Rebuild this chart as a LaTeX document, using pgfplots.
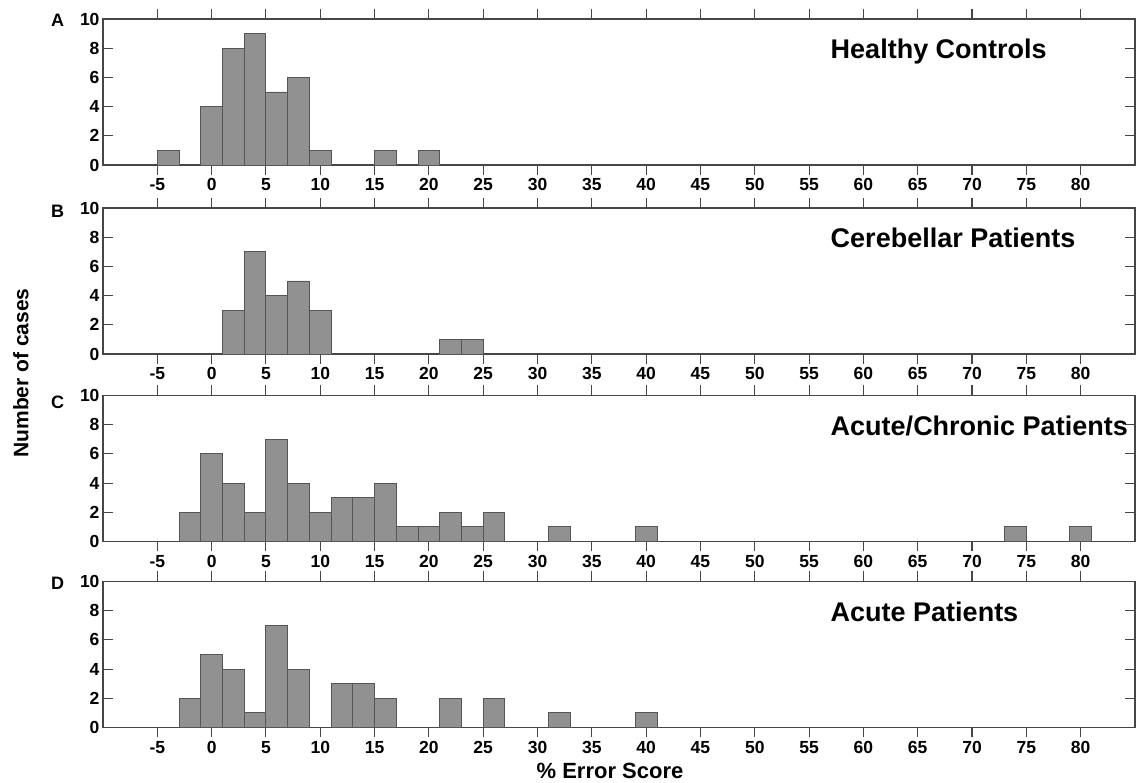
\documentclass[border=0pt]{standalone}
\usepackage{pgfplots}
\pgfplotsset{compat=1.18}
\usepackage{fontspec}
\setmainfont{Liberation Sans}
\definecolor{barfill}{RGB}{145,145,145}
\definecolor{baredge}{RGB}{85,85,85}
\definecolor{axcol}{RGB}{70,70,70}
\pgfplotsset{panel/.style={
  scale only axis, width=1032pt, height=146pt, anchor=south west,
  xmin=-10, xmax=85, ymin=0, ymax=10,
  xtick={-5,0,5,10,15,20,25,30,35,40,45,50,55,60,65,70,75,80},
  xticklabels={-5,0,5,10,15,20,25,30,35,40,45,50,55,60,65,70,75,80},
  ytick={0,2,4,6,8,10}, yticklabels={0,2,4,6,8,10},
  tick align=inside, major tick length=10pt,
  axis line style={axcol, line width=1.2pt},
  tick style={axcol, line width=1.1pt},
  ticklabel style={font=\fontsize{17.5}{20}\selectfont\bfseries},
  ybar, bar width=2, clip=false,
},
bars/.style={fill=barfill, draw=baredge, line width=0.9pt},
}
\tikzset{ttl/.style={anchor=base west, inner sep=0pt, font=\fontsize{27}{30}\selectfont\bfseries}}
\begin{document}
\begin{tikzpicture}
\useasboundingbox (0,0) rectangle (1138pt,783pt);
% Panel A
\begin{axis}[panel, at={(103pt,618pt)}]
\addplot[bars] coordinates {(-4,1) (0,4) (2,8) (4,9) (6,5) (8,6) (10,1) (16,1) (20,1)};
\node[ttl] at (rel axis cs:0.705,0.726) {Healthy Controls};
\end{axis}
% Panel B
\begin{axis}[panel, at={(103pt,429pt)}]
\addplot[bars] coordinates {(2,3) (4,7) (6,4) (8,5) (10,3) (22,1) (24,1)};
\node[ttl] at (rel axis cs:0.705,0.726) {Cerebellar Patients};
\end{axis}
% Panel C
\begin{axis}[panel, at={(103pt,241.5pt)}]
\addplot[bars] coordinates {(-2,2) (0,6) (2,4) (4,2) (6,7) (8,4) (10,2) (12,3) (14,3) (16,4) (18,1) (20,1) (22,2) (24,1) (26,2) (32,1) (40,1) (74,1) (80,1)};
\node[ttl] at (rel axis cs:0.705,0.726) {Acute/Chronic Patients};
\end{axis}
% Panel D
\begin{axis}[panel, at={(103pt,55.5pt)}]
\addplot[bars] coordinates {(-2,2) (0,5) (2,4) (4,1) (6,7) (8,4) (12,3) (14,3) (16,2) (22,2) (26,2) (32,1) (40,1)};
\node[ttl] at (rel axis cs:0.705,0.726) {Acute Patients};
\end{axis}
\begin{scope}[every node/.style={font=\fontsize{18}{20}\selectfont\bfseries, inner sep=0pt}]
\node at (57.5pt,763pt) {A};
\node at (57.5pt,572pt) {B};
\node at (57.5pt,381pt) {C};
\node at (57.5pt,200pt) {D};
\end{scope}
\node[rotate=90, anchor=base, inner sep=0pt, font=\fontsize{21}{24}\selectfont\bfseries] at (28.3pt,410pt) {Number of cases};
\node[anchor=base, inner sep=0pt, font=\fontsize{22}{24}\selectfont\bfseries] at (610pt,4.5pt) {\% Error Score};
\end{tikzpicture}
\end{document}
